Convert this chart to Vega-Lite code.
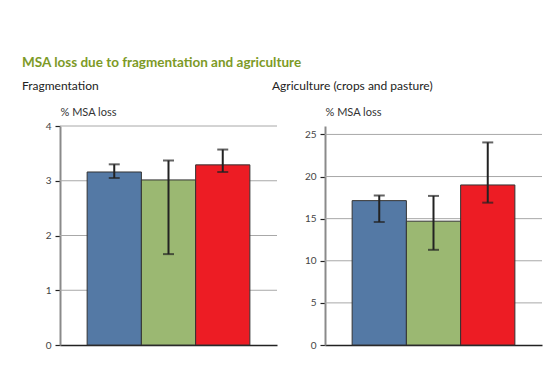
{
  "$schema": "https://vega.github.io/schema/vega-lite/v6.json",
  "padding": {"left": 22, "top": 55, "right": 5, "bottom": 5},
  "title": {"text": "MSA loss due to fragmentation and agriculture", "anchor": "start", "font": "Lato", "fontSize": 13.5, "fontWeight": "bold", "color": "#7d9a26", "offset": 11},
  "datasets": {
    "bars": [
      {"panel": "frag", "cat": "A", "value": 3.16, "lo": 3.05, "hi": 3.30},
      {"panel": "frag", "cat": "B", "value": 3.015, "lo": 1.66, "hi": 3.37},
      {"panel": "frag", "cat": "C", "value": 3.29, "lo": 3.16, "hi": 3.57},
      {"panel": "agri", "cat": "A", "value": 17.14, "lo": 14.6, "hi": 17.75},
      {"panel": "agri", "cat": "B", "value": 14.7, "lo": 11.3, "hi": 17.7},
      {"panel": "agri", "cat": "C", "value": 19.0, "lo": 16.9, "hi": 24.05}
    ],
    "gridFrag": [{"g": 1}, {"g": 2}, {"g": 3}, {"g": 4}],
    "gridAgri": [{"g": 5}, {"g": 10}, {"g": 15}, {"g": 20}, {"g": 25}]
  },
  "spacing": 48,
  "bounds": "flush",
  "hconcat": [
    {
      "width": 217, "height": 219,
      "title": {"text": "Fragmentation", "anchor": "start", "frame": "group", "dx": -38},
      "layer": [
        {"data": {"name": "gridFrag"},
         "mark": {"type": "rule", "color": "#a8a8a8", "strokeWidth": 1},
         "encoding": {"y": {"field": "g", "type": "quantitative", "title": "% MSA loss"}}},
        {"data": {"name": "bars"},
         "transform": [{"filter": "datum.panel === 'frag'"}],
         "encoding": {"x": {"field": "cat", "type": "nominal", "scale": {"paddingInner": 0, "paddingOuter": 0.5}, "axis": {"labels": false, "ticks": false, "title": null, "domainColor": "#222", "domainWidth": 1.5}}},
         "layer": [
          {"mark": {"type": "bar", "stroke": "#333", "strokeWidth": 1},
           "encoding": {
             "y": {"field": "value", "type": "quantitative", "scale": {"domain": [0, 4]}, "title": "% MSA loss",
                   "axis": {"values": [0, 0.5, 1, 1.5, 2, 2.5, 3, 3.5, 4], "format": "d", "grid": false,
                            "labelExpr": "datum.value % 1 === 0 ? datum.label : ''",
                            "tickSize": {"condition": {"test": "datum.value % 1 === 0", "value": 5}, "value": 3}}},
             "color": {"field": "cat", "type": "nominal", "scale": {"range": ["#5479a5", "#9bb872", "#ed1c24"]}, "legend": null}}},
          {"mark": {"type": "rule", "color": "#222", "strokeWidth": 2},
           "encoding": {"y": {"field": "lo", "type": "quantitative", "title": "% MSA loss"}, "y2": {"field": "hi"}}},
          {"mark": {"type": "tick", "color": "#222", "thickness": 2, "size": 11},
           "encoding": {"y": {"field": "lo", "type": "quantitative", "title": "% MSA loss"}}},
          {"mark": {"type": "tick", "color": "#222", "thickness": 2, "size": 11},
           "encoding": {"y": {"field": "hi", "type": "quantitative", "title": "% MSA loss"}}}
         ]}
      ]
    },
    {
      "width": 217, "height": 219,
      "title": {"text": "Agriculture (crops and pasture)", "anchor": "start", "frame": "group", "dx": -53},
      "layer": [
        {"data": {"name": "gridAgri"},
         "mark": {"type": "rule", "color": "#a8a8a8", "strokeWidth": 1},
         "encoding": {"y": {"field": "g", "type": "quantitative", "title": "% MSA loss"}}},
        {"data": {"name": "bars"},
         "transform": [{"filter": "datum.panel === 'agri'"}],
         "encoding": {"x": {"field": "cat", "type": "nominal", "scale": {"paddingInner": 0, "paddingOuter": 0.5}, "axis": {"labels": false, "ticks": false, "title": null, "domainColor": "#222", "domainWidth": 1.5}}},
         "layer": [
          {"mark": {"type": "bar", "stroke": "#333", "strokeWidth": 1},
           "encoding": {
             "y": {"field": "value", "type": "quantitative", "scale": {"domain": [0, 25]}, "title": "% MSA loss",
                   "axis": {"values": [0, 5, 10, 15, 20, 25], "tickSize": 5, "grid": false}},
             "color": {"field": "cat", "type": "nominal", "scale": {"range": ["#5479a5", "#9bb872", "#ed1c24"]}, "legend": null}}},
          {"mark": {"type": "rule", "color": "#222", "strokeWidth": 2},
           "encoding": {"y": {"field": "lo", "type": "quantitative", "title": "% MSA loss"}, "y2": {"field": "hi"}}},
          {"mark": {"type": "tick", "color": "#222", "thickness": 2, "size": 11},
           "encoding": {"y": {"field": "lo", "type": "quantitative", "title": "% MSA loss"}}},
          {"mark": {"type": "tick", "color": "#222", "thickness": 2, "size": 11},
           "encoding": {"y": {"field": "hi", "type": "quantitative", "title": "% MSA loss"}}}
         ]}
      ]
    }
  ],
  "resolve": {"scale": {"color": "independent"}},
  "config": {
    "view": {"stroke": null},
    "title": {"font": "Lato", "fontSize": 12, "fontWeight": "normal", "color": "#222", "offset": 13},
    "axis": {"labelFont": "Lato", "labelFontSize": 10, "labelColor": "#444", "labelPadding": 4, "grid": false,
              "domainColor": "#8a8a8a", "domainWidth": 2, "tickColor": "#222", "tickWidth": 1.2,
              "titleFont": "Lato", "titleFontSize": 11, "titleFontWeight": "normal", "titleColor": "#333"},
    "axisY": {"titleAngle": 0, "titleAlign": "left", "titleX": 0, "titleY": -11, "titleBaseline": "alphabetic"}
  }
}
